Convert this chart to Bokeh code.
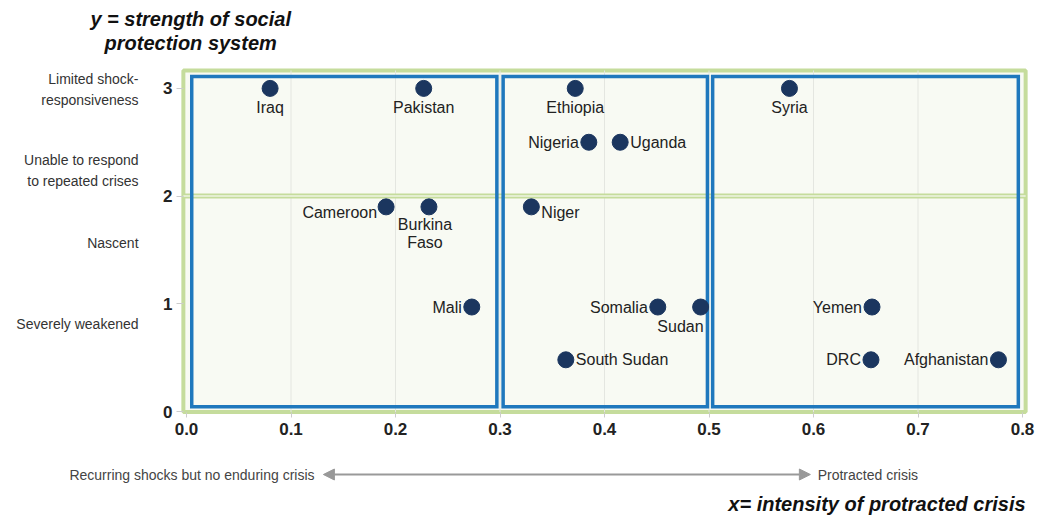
from bokeh.plotting import figure
from bokeh.models import (ColumnDataSource, Range1d, Label, Arrow, NormalHead, FixedTicker,
                          LinearAxis)
from bokeh.core.properties import value
from bokeh.embed import file_html
from bokeh.resources import INLINE

# ---- data ----
countries = ["Iraq", "Pakistan", "Ethiopia", "Syria", "Nigeria", "Uganda",
             "Cameroon", "Burkina\nFaso", "Niger", "Mali", "Somalia", "Sudan",
             "Yemen", "South Sudan", "DRC", "Afghanistan"]
crisis_intensity = [0.080, 0.227, 0.372, 0.577, 0.385, 0.415,
                    0.191, 0.232, 0.330, 0.273, 0.451, 0.492,
                    0.656, 0.363, 0.655, 0.777]
protection_strength = [3.0, 3.0, 3.0, 3.0, 2.5, 2.5,
                       1.9, 1.9, 1.9, 0.97, 0.97, 0.97,
                       0.97, 0.48, 0.48, 0.48]
x_ticks = [0.0, 0.1, 0.2, 0.3, 0.4, 0.5, 0.6, 0.7, 0.8]
x_grid_ticks = [0.1, 0.2, 0.3, 0.4, 0.5, 0.6, 0.7]
y_ticks = [0, 1, 2, 3]
y_categories = ["Limited shock-\nresponsiveness", "Unable to respond\nto repeated crises",
                "Nascent", "Severely weakened"]
y_category_levels = [2.99, 2.238, 1.569, 0.817]
zone_left = [0.005, 0.303, 0.5035]
zone_right = [0.297, 0.4985, 0.796]

# ---- label placement (pixels) ----
label_dx = [0, 0, 0, 0, -10, 10, -9, -4, 10, -10, -10, 3, -10, 10, -10, -10]
label_dy = [19, 19, 19, 19, 0, 0, 6, 9, 6, 0, 0, 19, 0, 0, 0, 0]
label_align = ["center", "center", "center", "center", "right", "left", "right", "center",
               "left", "right", "right", "right", "right", "left", "right", "right"]
label_base = ["middle"] * 16
label_base[7] = "top"

src = ColumnDataSource(dict(x=crisis_intensity, y=protection_strength, name=countries,
                            dx=label_dx, dy=label_dy, align=label_align, base=label_base))

FONT = "Liberation Sans"
GREEN = "#c5dc9c"
BLUE = "#1f78bd"

# plot-area bounds in data units
X0, X1 = -0.003, 0.803
Y0, Y1 = -0.005, 3.166

W, H = 1036, 516
# canvas pixel mapping: px = 186 + 1045*x ; py = 411 - 107.7*y
p = figure(width=W, height=H, output_backend="svg", toolbar_location=None,
           x_range=Range1d(-186 / 1045, (W - 186) / 1045),
           y_range=Range1d((411 - H) / 107.7, 411 / 107.7),
           x_axis_location=None, y_axis_location=None,
           min_border=0, min_border_left=0, min_border_right=0,
           min_border_top=0, min_border_bottom=0)
p.outline_line_color = None
p.background_fill_color = "white"
p.border_fill_color = "white"
p.xgrid.grid_line_color = None
p.ygrid.grid_line_color = None

# plot area background + green frame
p.quad(left=[X0], right=[X1], bottom=[Y0], top=[Y1], fill_color="#f8faf3",
       line_color=GREEN, line_width=4)
# vertical grid lines
p.segment(x0=x_grid_ticks, x1=x_grid_ticks, y0=[Y0] * len(x_grid_ticks),
          y1=[Y1] * len(x_grid_ticks), line_color="#e4e6e0", line_width=1)
# divider at y=2 (double green line)
p.segment(x0=[X0], x1=[X1], y0=[2], y1=[2], line_color=GREEN, line_width=5)
p.segment(x0=[X0], x1=[X1], y0=[2], y1=[2], line_color="#eef5e2", line_width=1.5)
# blue zone boxes
p.quad(left=zone_left, right=zone_right, bottom=[0.045] * 3, top=[3.11] * 3,
       fill_color=None, line_color=BLUE, line_width=3.5, line_join="miter")

# axes at fixed locations
xaxis = LinearAxis(fixed_location=Y0, ticker=FixedTicker(ticks=x_ticks))
xaxis.major_label_overrides = {t: f"{t:.1f}" for t in x_ticks}
xaxis.major_tick_out = 5
xaxis.major_label_standoff = 6
yaxis = LinearAxis(fixed_location=X0, ticker=FixedTicker(ticks=y_ticks))
yaxis.major_tick_out = 7
yaxis.major_label_standoff = 4
for ax in (xaxis, yaxis):
    ax.axis_line_color = None
    ax.major_tick_line_color = "#cccccc"
    ax.major_tick_in = 0
    ax.minor_tick_line_color = None
    ax.major_label_text_font = FONT
    ax.major_label_text_font_style = "bold"
    ax.major_label_text_font_size = "17px"
    ax.major_label_text_color = "#222222"
p.add_layout(xaxis, "below")
p.add_layout(yaxis, "left")

p.scatter("x", "y", source=src, size=16, fill_color="#1b365f", line_color="#1b365f")
p.text("x", "y", text="name", source=src, x_offset="dx", y_offset="dy",
       text_align="align", text_baseline="base", text_font=value(FONT),
       text_font_size="16px", text_color="#222222", text_line_height=1.05)

# y title
for txt, yy in (("y = strength of social", 3.649), ("protection system", 3.426)):
    p.add_layout(Label(x=0.004, y=yy, text=txt, text_align="center",
                       text_baseline="middle", text_font=FONT, text_font_style="bold italic",
                       text_font_size="20px", text_color="#111111"))

# y category descriptions
for txt, lvl in zip(y_categories, y_category_levels):
    p.add_layout(Label(x=-0.0459, y=lvl, text=txt, text_align="right", text_baseline="middle",
                       text_font=FONT, text_font_size="14px", text_color="#333333",
                       text_line_height=1.3))

# bottom arrow
p.add_layout(Arrow(x_start=0.131, y_start=-0.585, x_end=0.597, y_end=-0.585,
                   line_color="#999999", line_width=2,
                   start=NormalHead(size=11, fill_color="#999999", line_color="#999999"),
                   end=NormalHead(size=11, fill_color="#999999", line_color="#999999")))
p.add_layout(Label(x=0.1225, y=-0.585, text="Recurring shocks but no enduring crisis",
                   text_align="right", text_baseline="middle", text_font=FONT,
                   text_font_size="14px", text_color="#444444"))
p.add_layout(Label(x=0.604, y=-0.585, text="Protracted crisis",
                   text_align="left", text_baseline="middle", text_font=FONT,
                   text_font_size="14px", text_color="#444444"))
p.add_layout(Label(x=0.803, y=-0.86, text="x= intensity of protracted crisis",
                   text_align="right", text_baseline="middle", text_font=FONT,
                   text_font_style="bold italic", text_font_size="20px", text_color="#111111"))

open("out.html", "w").write(file_html(p, INLINE))
